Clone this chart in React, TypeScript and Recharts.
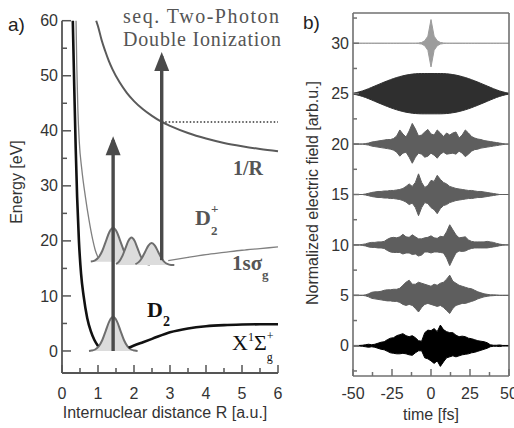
import type { ReactElement } from 'react';
import { Area, ComposedChart, Line, ReferenceLine, Scatter, XAxis, YAxis } from 'recharts';

// ---- panel a): potential curves, R [a.u.] vs energy [eV] ----
const groundInner: [number, number][] = [
  [0.3, 60], [0.34, 48], [0.38, 37], [0.42, 28], [0.47, 20], [0.53, 14], [0.6, 10],
  [0.7, 6], [0.8, 3.6], [0.9, 2.0], [1.0, 0.9],
];
const groundOuter: [number, number][] = [
  [1.85, 0.6], [2.0, 1.0], [2.25, 1.6], [2.5, 2.2], [3.0, 3.4], [3.5, 4.1], [4.0, 4.5],
  [4.5, 4.7], [5.0, 4.8], [5.5, 4.85], [6.0, 4.85],
];
const ionInner: [number, number][] = [
  [0.39, 60], [0.41, 52], [0.44, 44], [0.48, 38], [0.55, 33], [0.65, 28], [0.75, 23.8],
  [0.85, 20.3], [0.92, 18.4], [1.0, 17.0],
];
const ionOuter: [number, number][] = [
  [2.95, 16.4], [3.5, 17.0], [4.0, 17.5], [4.5, 17.9], [5.0, 18.3], [5.5, 18.6], [6.0, 18.9],
];
const coulomb: [number, number][] = [
  [0.95, 60], [1.0, 59.0], [1.1, 56.5], [1.2, 54.5], [1.3, 52.7], [1.4, 51.2], [1.6, 48.8],
  [1.8, 46.9], [2.0, 45.4], [2.25, 43.9], [2.5, 42.7], [2.77, 41.6], [3.0, 40.9], [3.5, 39.6],
  [4.0, 38.6], [4.5, 37.8], [5.0, 37.2], [5.5, 36.7], [6.0, 36.3],
];
const threshold: [number, number][] = [[2.77, 41.6], [6.0, 41.6]];

const groundPacket: [number, number][] = [
  [0.75, 0], [0.82, 0.07], [0.92, 0.27], [1.02, 0.84], [1.12, 2.0], [1.22, 3.76], [1.32, 5.47],
  [1.42, 6.2], [1.52, 5.47], [1.62, 3.76], [1.72, 2.0], [1.82, 0.84], [1.92, 0.27], [2.02, 0.07],
  [2.1, 0],
];
const ionPacket1: [number, number][] = [
  [0.8, 16.25], [0.92, 16.47], [1.02, 17.04], [1.12, 18.21], [1.22, 19.96], [1.32, 21.67],
  [1.42, 22.4], [1.52, 21.67], [1.62, 19.96], [1.72, 18.21], [1.82, 17.04], [1.92, 16.47],
  [2.02, 16.27],
];
const ionPacket2: [number, number][] = [
  [1.5, 15.82], [1.59, 16.28], [1.675, 17.22], [1.76, 18.63], [1.845, 20.01], [1.93, 20.6],
  [2.015, 20.01], [2.1, 18.63], [2.185, 17.22], [2.27, 16.28], [2.355, 15.82], [2.44, 15.65],
];
const ionPacket3: [number, number][] = [
  [2.04, 15.78], [2.13, 16.14], [2.22, 16.9], [2.31, 18.03], [2.4, 19.13], [2.49, 19.6],
  [2.58, 19.13], [2.67, 18.03], [2.76, 16.9], [2.85, 16.14], [2.94, 15.78], [3.03, 15.64],
  [3.12, 15.6],
];
const packetBases = [0, 16.2, 15.6, 15.6];

const arrowR = [1.42, 2.77];
const arrowFrom = [0, 16.5];
const arrowTo = [38.3, 53.6];

const rTicks = [0, 0.5, 1, 1.5, 2, 2.5, 3, 3.5, 4, 4.5, 5, 5.5, 6];
const energyTicks = [0, 5, 10, 15, 20, 25, 30, 35, 40, 45, 50, 55, 60];

// ---- panel b): field envelopes (upper / lower amplitude around each offset) ----
const fieldTime = [
  -50, -48, -46, -44, -42, -40, -38, -36, -34, -32, -30, -28, -26, -24, -22, -20, -18, -16, -14,
  -12, -10, -8, -6, -4, -2, 0, 2, 4, 6, 8, 10, 12, 14, 16, 18, 20, 22, 24, 26, 28, 30, 32, 34, 36,
  38, 40, 42, 44, 46, 48, 50,
];
const fieldOffsets = [30, 25, 20, 15, 10, 5, 0];

const env30 = [
  0, 0, 0, 0, 0, 0, 0, 0, 0, 0, 0, 0, 0, 0, 0, 0, 0, 0, 0, 0, 0,
  0.03, 0.08, 0.25, 0.7, 2.35, 0.7, 0.25, 0.08, 0.03,
  0, 0, 0, 0, 0, 0, 0, 0, 0, 0, 0, 0, 0, 0, 0, 0, 0, 0, 0, 0, 0,
];
const env25 = [
  0.05, 0.1, 0.18, 0.27, 0.38, 0.5, 0.63, 0.76, 0.89, 1.02, 1.15, 1.27, 1.39, 1.5, 1.6, 1.69,
  1.77, 1.84, 1.89, 1.94, 1.97, 1.99, 2.0, 2.0, 2.0, 2.0, 2.0, 2.0, 2.0, 1.99, 1.97, 1.94, 1.89,
  1.84, 1.77, 1.69, 1.6, 1.5, 1.39, 1.27, 1.15, 1.02, 0.89, 0.76, 0.63, 0.5, 0.38, 0.27, 0.18,
  0.1, 0.05,
];
const up20 = [
  0, 0, 0, 0, 0.05, 0.1, 0.2, 0.25, 0.3, 0.35,
  0.4, 0.45, 0.45, 0.55, 0.8, 1.4, 1.0, 0.7, 1.3, 2.05,
  1.5, 0.8, 0.9, 1.2, 1.45, 1.0, 0.9, 1.4, 1.1, 0.75,
  1.1, 0.9, 1.1, 1.2, 0.6, 0.9, 1.4, 1.1, 0.75, 0.6,
  0.5, 0.45, 0.35, 0.3, 0.25, 0.2, 0.15, 0.1, 0.05, 0, 0,
];
const down20 = [
  0, 0, 0, 0, 0.05, 0.1, 0.2, 0.25, 0.3, 0.35,
  0.4, 0.45, 0.5, 0.6, 0.8, 1.2, 0.9, 0.8, 1.3, 1.9,
  1.3, 0.9, 1.0, 1.3, 1.2, 0.9, 1.1, 1.4, 1.0, 0.8,
  1.0, 0.95, 0.9, 1.0, 0.7, 0.9, 1.25, 1.0, 0.7, 0.55,
  0.5, 0.4, 0.35, 0.3, 0.25, 0.2, 0.15, 0.1, 0.05, 0, 0,
];
const up15 = [
  0, 0, 0, 0, 0.05, 0.12, 0.2, 0.25, 0.3, 0.3,
  0.35, 0.35, 0.4, 0.4, 0.45, 0.5, 0.6, 0.8, 1.05, 0.8,
  1.2, 2.05, 1.2, 0.7, 0.9, 1.4, 1.3, 1.9, 1.5, 1.2,
  1.05, 0.8, 0.7, 0.6, 0.55, 0.5, 0.45, 0.4, 0.4, 0.35,
  0.3, 0.3, 0.25, 0.2, 0.15, 0.1, 0.05, 0, 0, 0, 0,
];
const down15 = [
  0, 0, 0, 0, 0.05, 0.12, 0.2, 0.25, 0.3, 0.3,
  0.35, 0.35, 0.4, 0.4, 0.45, 0.5, 0.6, 0.75, 1.0, 0.85,
  1.3, 2.1, 1.3, 0.8, 0.9, 1.3, 1.5, 1.9, 1.4, 1.1,
  1.0, 0.8, 0.7, 0.6, 0.55, 0.5, 0.45, 0.4, 0.4, 0.35,
  0.3, 0.3, 0.25, 0.2, 0.15, 0.1, 0.05, 0, 0, 0, 0,
];
const up10 = [
  0, 0, 0, 0.05, 0.1, 0.2, 0.25, 0.25, 0.3, 0.3,
  0.35, 0.55, 0.7, 0.75, 0.7, 0.8, 1.05, 0.8, 0.75, 1.0,
  0.8, 0.6, 0.6, 0.7, 0.75, 0.9, 0.7, 0.65, 0.85, 0.8,
  1.3, 2.0, 1.5, 1.0, 0.7, 0.75, 0.8, 0.5, 0.35, 0.3,
  0.3, 0.3, 0.3, 0.35, 0.3, 0.25, 0.15, 0.08, 0.03, 0, 0,
];
const down10 = [
  0, 0, 0, 0.05, 0.1, 0.2, 0.25, 0.25, 0.3, 0.3,
  0.35, 0.55, 0.7, 0.75, 0.75, 0.75, 0.9, 0.8, 0.8, 0.95,
  0.9, 1.1, 1.0, 0.7, 0.7, 0.8, 0.7, 0.7, 0.75, 0.8,
  1.3, 2.05, 1.4, 0.8, 0.6, 0.65, 0.6, 0.45, 0.35, 0.3,
  0.3, 0.3, 0.3, 0.3, 0.25, 0.2, 0.15, 0.08, 0.03, 0, 0,
];
const up5 = [
  0, 0, 0, 0, 0.05, 0.15, 0.3, 0.35, 0.35, 0.4,
  0.5, 0.55, 0.55, 0.6, 0.6, 0.7, 1.0, 1.3, 1.5, 1.1,
  1.1, 1.3, 1.2, 1.1, 1.0, 0.9, 1.1, 1.0, 1.2, 1.3,
  1.6, 2.0, 1.4, 1.2, 1.0, 0.9, 0.8, 0.7, 0.65, 0.5,
  0.35, 0.25, 0.15, 0.1, 0.05, 0.05, 0.03, 0, 0, 0, 0,
];
const down5 = [
  0, 0, 0, 0, 0.05, 0.15, 0.3, 0.35, 0.4, 0.45,
  0.5, 0.55, 0.55, 0.6, 0.6, 0.7, 0.9, 1.0, 0.9, 1.0,
  1.3, 1.65, 1.2, 0.9, 0.8, 0.9, 1.0, 1.1, 1.0, 1.2,
  1.5, 1.8, 1.3, 1.0, 0.9, 0.8, 0.8, 0.7, 0.6, 0.5,
  0.35, 0.25, 0.15, 0.1, 0.05, 0.03, 0, 0, 0, 0, 0,
];
const up0 = [
  0.03, 0.03, 0.03, 0.05, 0.1, 0.15, 0.1, 0.15, 0.25, 0.35,
  0.4, 0.6, 0.75, 0.8, 1.0, 1.1, 1.2, 1.0, 0.9, 1.0,
  0.8, 0.5, 0.45, 1.3, 1.55, 1.5, 1.7, 1.4, 2.05, 1.6,
  1.4, 1.3, 1.3, 1.05, 0.9, 0.95, 0.9, 0.75, 0.7, 0.6,
  0.5, 0.45, 0.4, 0.3, 0.1, 0.05, 0.05, 0.08, 0.03, 0.03, 0.03,
];
const down0 = [
  0.03, 0.03, 0.03, 0.05, 0.1, 0.15, 0.1, 0.15, 0.25, 0.35,
  0.4, 0.55, 0.7, 0.75, 0.8, 0.8, 0.75, 0.8, 0.9, 0.95,
  0.7, 0.5, 0.5, 1.2, 1.3, 1.5, 1.75, 1.5, 2.05, 1.6,
  1.2, 1.1, 1.0, 1.1, 1.0, 0.9, 0.85, 0.8, 0.7, 0.65,
  0.55, 0.45, 0.35, 0.25, 0.1, 0.05, 0.05, 0.08, 0.03, 0.03, 0.03,
];
const fieldUp = [env30, env25, up20, up15, up10, up5, up0];
const fieldDown = [env30, env25, down20, down15, down10, down5, down0];
const traceColors = ['#9c9c9c', '#2f2f2f', '#5e5e5e', '#5e5e5e', '#5e5e5e', '#5e5e5e', '#000000'];

const timeTicks = [-50, -37.5, -25, -12.5, 0, 12.5, 25, 37.5, 50];
const fieldTicks = [-2.5, 0, 2.5, 5, 7.5, 10, 12.5, 15, 17.5, 20, 22.5, 25, 27.5, 30, 32.5];
const fieldDomain: [number, number] = [-3, 33];

const toPoints = (pairs: [number, number][]) => pairs.map(([r, e]) => ({ r, e }));

const fieldTable = fieldTime.map((t, i) => {
  const row: Record<string, number | number[]> = { t };
  fieldOffsets.forEach((offset, k) => {
    row[`f${offset}`] = [offset - fieldDown[k][i], offset + fieldUp[k][i]];
  });
  return row;
});

const SANS = '"Liberation Sans", Arial, sans-serif';
const SERIF = '"Liberation Serif", "Times New Roman", serif';

interface TickProps {
  readonly x?: number;
  readonly y?: number;
  readonly payload?: { value: number };
}

function isMultiple(value: number, step: number): boolean {
  return Math.abs(value / step - Math.round(value / step)) < 1e-6;
}

function bottomTick(step: number, color: string, major: number, minor: number, labelDy: number) {
  return function BottomTick({ x = 0, y = 0, payload }: TickProps): ReactElement {
    const value = payload?.value ?? 0;
    const big = isMultiple(value, step);
    return (
      <g>
        <line x1={x} x2={x} y1={y} y2={y - (big ? major : minor)} stroke={color} strokeWidth={1.5} />
        {big && (
          <text x={x} y={y + labelDy} textAnchor="middle" fontFamily={SANS} fontSize={16} fill="#333">
            {value}
          </text>
        )}
      </g>
    );
  };
}

function leftTick(step: number, color: string, major: number, minor: number) {
  return function LeftTick({ x = 0, y = 0, payload }: TickProps): ReactElement {
    const value = payload?.value ?? 0;
    const big = isMultiple(value, step);
    return (
      <g>
        <line x1={x} x2={x + (big ? major : minor)} y1={y} y2={y} stroke={color} strokeWidth={1.5} />
        {big && (
          <text x={x - 4} y={y + 5.6} textAnchor="end" fontFamily={SANS} fontSize={16} fill="#333">
            {value}
          </text>
        )}
      </g>
    );
  };
}

function ArrowHead(props: { cx?: number; cy?: number }): ReactElement {
  const cx = props.cx ?? 0;
  const cy = props.cy ?? 0;
  return <path d={`M${cx},${cy - 4}L${cx - 7.5},${cy + 15}L${cx + 7.5},${cy + 15}Z`} fill="#4a4a4a" />;
}

function PotentialPanel(): ReactElement {
  const axisColor = '#555';
  const packets = [groundPacket, ionPacket1, ionPacket2, ionPacket3];
  return (
    <ComposedChart width={290} height={428} margin={{ top: 20.7, right: 12, bottom: 0, left: 0 }}>
      <XAxis
        dataKey="r"
        type="number"
        domain={[0, 6]}
        ticks={rTicks}
        interval={0}
        height={55}
        tickSize={0}
        tickMargin={0}
        tickLine={false}
        axisLine={{ stroke: axisColor, strokeWidth: 1.8 }}
        tick={bottomTick(1, axisColor, 8, 5, 26)}
      />
      <YAxis
        type="number"
        domain={[-4, 60]}
        ticks={energyTicks}
        interval={0}
        width={62}
        tickSize={0}
        tickMargin={0}
        tickLine={false}
        axisLine={{ stroke: axisColor, strokeWidth: 1.8 }}
        tick={leftTick(10, axisColor, 9, 5)}
      />
      <Line data={toPoints(ionInner)} dataKey="e" type="monotone" stroke="#808080" strokeWidth={1.3} dot={false} activeDot={false} isAnimationActive={false} />
      <Line data={toPoints(ionOuter)} dataKey="e" type="monotone" stroke="#808080" strokeWidth={1.3} dot={false} activeDot={false} isAnimationActive={false} />
      <Line data={toPoints(groundInner)} dataKey="e" type="monotone" stroke="#111" strokeWidth={2.6} dot={false} activeDot={false} isAnimationActive={false} />
      <Line data={toPoints(groundOuter)} dataKey="e" type="monotone" stroke="#111" strokeWidth={2.6} dot={false} activeDot={false} isAnimationActive={false} />
      <Line data={toPoints(coulomb)} dataKey="e" type="monotone" stroke="#5a5a5a" strokeWidth={2} dot={false} activeDot={false} isAnimationActive={false} />
      <Line data={toPoints(threshold)} dataKey="e" type="linear" stroke="#333" strokeWidth={1.4} strokeDasharray="1.5 2" dot={false} activeDot={false} isAnimationActive={false} />
      {packets.map((packet, i) => (
        <Area
          key={`packet-${i}`}
          data={toPoints(packet)}
          dataKey="e"
          type="monotone"
          baseValue={packetBases[i]}
          fill="#dcdcdc"
          fillOpacity={1}
          stroke="#6e6e6e"
          strokeWidth={2}
          dot={false}
          activeDot={false}
          isAnimationActive={false}
        />
      ))}
      {arrowR.map((r, i) => (
        <Line
          key={`shaft-${i}`}
          data={[{ r, e: arrowFrom[i] }, { r, e: arrowTo[i] }]}
          dataKey="e"
          type="linear"
          stroke="#4a4a4a"
          strokeWidth={3.4}
          dot={false}
          activeDot={false}
          isAnimationActive={false}
        />
      ))}
      <Scatter
        data={arrowR.map((r, i) => ({ r, e: arrowTo[i] }))}
        dataKey="e"
        shape={(props: unknown) => <ArrowHead {...(props as { cx?: number; cy?: number })} />}
        isAnimationActive={false}
      />
    </ComposedChart>
  );
}

function FieldPanel(): ReactElement {
  const frame = '#707070';
  return (
    <ComposedChart width={224} height={428} data={fieldTable} margin={{ top: 13, right: 5, bottom: 0, left: 0 }}>
      <XAxis
        dataKey="t"
        type="number"
        domain={[-50, 50]}
        ticks={timeTicks}
        interval={0}
        height={52}
        tickSize={0}
        tickMargin={0}
        tickLine={false}
        axisLine={{ stroke: frame, strokeWidth: 1.6 }}
        tick={bottomTick(25, frame, 7, 4, 23)}
      />
      <YAxis
        type="number"
        domain={fieldDomain}
        ticks={fieldTicks}
        interval={0}
        width={63}
        tickSize={0}
        tickMargin={0}
        tickLine={false}
        axisLine={{ stroke: frame, strokeWidth: 1.6 }}
        tick={leftTick(5, frame, 6, 4)}
      />
      <ReferenceLine y={fieldDomain[1]} stroke={frame} strokeWidth={1.6} />
      <ReferenceLine x={50} stroke={frame} strokeWidth={1.6} />
      {fieldOffsets.map((offset, k) => (
        <Area
          key={`trace-${offset}`}
          dataKey={`f${offset}`}
          type="linear"
          fill={traceColors[k]}
          fillOpacity={1}
          stroke={traceColors[k]}
          strokeWidth={1}
          dot={false}
          activeDot={false}
          isAnimationActive={false}
        />
      ))}
    </ComposedChart>
  );
}

function Annotations(): ReactElement {
  const grey = '#555';
  return (
    <svg width={514} height={428} style={{ position: 'absolute', left: 0, top: 0, pointerEvents: 'none' }}>
      <text x={8} y={31} fontFamily={SANS} fontSize={19} fill="#222">a)</text>
      <text x={303} y={29} fontFamily={SANS} fontSize={19} fill="#222">b)</text>
      <text transform="translate(22,182) rotate(-90)" textAnchor="middle" fontFamily={SANS} fontSize={16} fill="#333">
        Energy [eV]
      </text>
      <text x={165} y={418} textAnchor="middle" fontFamily={SANS} fontSize={16} fill="#333">
        Internuclear distance R [a.u.]
      </text>
      <text transform="translate(318,193) rotate(-90)" textAnchor="middle" fontFamily={SANS} fontSize={16} fill="#333">
        Normalized electric field [arb.u.]
      </text>
      <text x={431} y={420} textAnchor="middle" fontFamily={SANS} fontSize={16} fill="#333">
        time [fs]
      </text>

      <text x={123} y={23} fontFamily={SERIF} fontSize={20} fill={grey} textLength={156} lengthAdjust="spacing">
        seq. Two-Photon
      </text>
      <text x={123} y={46} fontFamily={SERIF} fontSize={20} fill={grey} textLength={158} lengthAdjust="spacing">
        Double Ionization
      </text>

      <text x={233} y={175} fontFamily={SERIF} fontSize={20} fontWeight="bold" fill={grey}>1/R</text>

      <text x={195} y={225} fontFamily={SERIF} fontSize={22} fontWeight="bold" fill={grey}>
        D
        <tspan dy={10} fontSize={13}>2</tspan>
        <tspan dx={-6.5} dy={-22} fontSize={13}>+</tspan>
      </text>

      <text x={232} y={270} fontFamily={SERIF} fontSize={21} fontWeight="bold" fill={grey}>
        1sσ
        <tspan dy={9} fontSize={13}>g</tspan>
      </text>

      <text x={147} y={317} fontFamily={SERIF} fontSize={22} fontWeight="bold" fill="#111">
        D
        <tspan dy={9} fontSize={14}>2</tspan>
      </text>

      <text x={232} y={350} fontFamily={SERIF} fontSize={22} fill="#111">
        X
        <tspan dy={-9} fontSize={12}>1</tspan>
        <tspan dy={9}>Σ</tspan>
        <tspan dy={11} fontSize={12}>g</tspan>
        <tspan dx={-6} dy={-21} fontSize={12}>+</tspan>
      </text>
    </svg>
  );
}

export default function App(): ReactElement {
  return (
    <div style={{ position: 'absolute', left: 0, top: 0, width: 514, height: 428, background: '#fff' }}>
      <div style={{ position: 'absolute', left: 0, top: 0 }}>
        <PotentialPanel />
      </div>
      <div style={{ position: 'absolute', left: 290, top: 0 }}>
        <FieldPanel />
      </div>
      <Annotations />
    </div>
  );
}
